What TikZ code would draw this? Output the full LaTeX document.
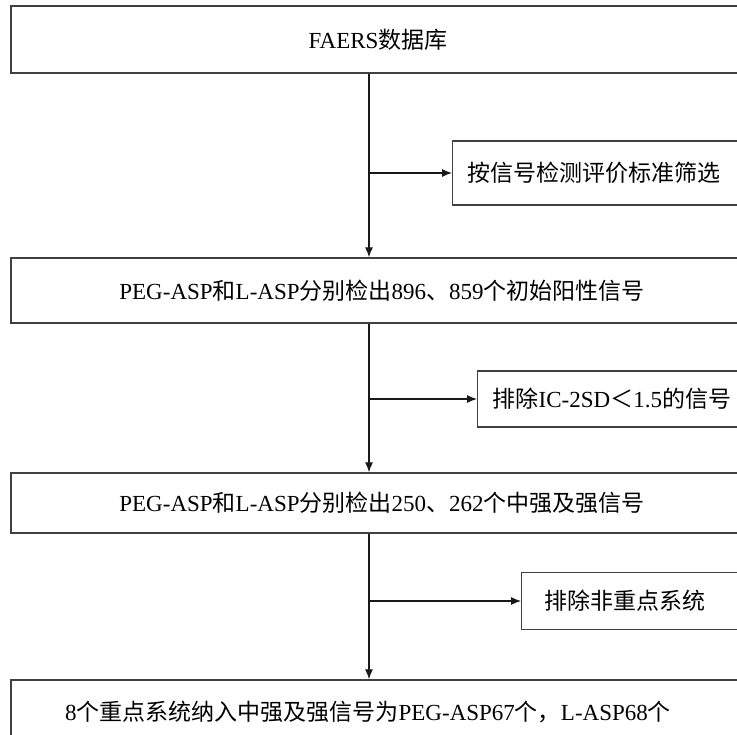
\documentclass[tikz,border=0pt]{standalone}
\usepackage{fontspec}
\setmainfont{Liberation Serif}
\newfontfamily\cjk{Noto Sans CJK SC}
\newcommand{\zh}[1]{{\cjk #1}}
\usetikzlibrary{arrows.meta}
\begin{document}
\begin{tikzpicture}[x=1pt,y=-1pt,
  box/.style={draw=black!75,line width=1.4pt,rectangle,inner sep=0pt,
    font=\fontsize{23pt}{27pt}\selectfont},
  mainbox/.style={box,minimum width=749pt},
  sidebox/.style={box,anchor=west,text width=290pt,inner xsep=15pt,align=left},
  lbl/.style={inner sep=0pt,font=\fontsize{23pt}{27pt}\selectfont},
  arr/.style={draw=black!90,line width=1.1pt,-{Latex[length=10pt,width=8pt]}}]
\useasboundingbox (0,0) rectangle (737,735);
\coordinate (spine) at (369,0);
\node[mainbox,minimum height=67pt] (b1) at (385.5,39.5) {};
\node[lbl] (t1) at (378,39.5) {FAERS\zh{数据库}};
\node[mainbox,minimum height=65pt] (b2) at (385.5,290.5) {};
\node[lbl] (t2) at (382,290.5) {PEG-ASP\zh{和}L-ASP\zh{分别检出}896\zh{、}859\zh{个初始阳性信号}};
\node[mainbox,minimum height=60pt] (b3) at (385.5,503) {};
\node[lbl] (t3) at (382,503) {PEG-ASP\zh{和}L-ASP\zh{分别检出}250\zh{、}262\zh{个中强及强信号}};
\node[mainbox,minimum height=64pt] (b4) at (385.5,712) {};
\node[lbl] (t4) at (368,712) {8\zh{个重点系统纳入中强及强信号为}PEG-ASP67\zh{个，}L-ASP68\zh{个}};
\node[sidebox,minimum height=64pt] (s1) at (452,173) {\zh{按信号检测评价标准筛选}};
\node[sidebox,minimum height=56pt] (s2) at (477,399) {\zh{排除}IC-2SD\zh{＜}1.5\zh{的信号}};
\node[sidebox,minimum height=57pt,inner xsep=23pt] (s3) at (521,601) {\zh{排除非重点系统}};
\draw[arr] (b1.south -| spine) -- (b2.north -| spine);
\draw[arr] (b2.south -| spine) -- (b3.north -| spine);
\draw[arr] (b3.south -| spine) -- (b4.north -| spine);
\draw[arr] (s1.west -| spine) -- (s1.west);
\draw[arr] (s2.west -| spine) -- (s2.west);
\draw[arr] (s3.west -| spine) -- (s3.west);
\end{tikzpicture}
\end{document}
